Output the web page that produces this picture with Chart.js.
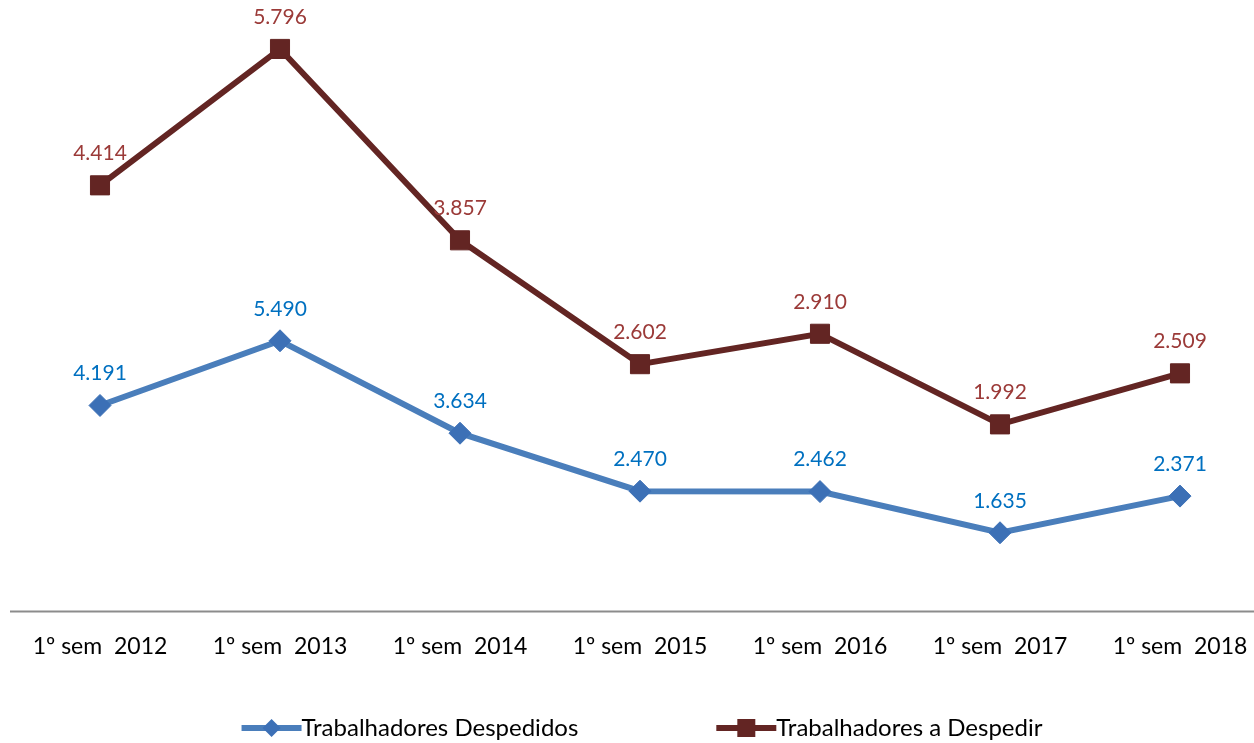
<!DOCTYPE html>
<html>
<head>
<meta charset="utf-8">
<script src="https://cdn.jsdelivr.net/npm/chart.js@4/dist/chart.umd.min.js"></script>
<style>
  html, body { margin: 0; padding: 0; background: #fff; }
  #wrap { width: 1254px; height: 743px; position: relative; }
</style>
</head>
<body>
<div id="wrap"><canvas id="chart"></canvas></div>
<script>
const categories = ["1º sem  2012", "1º sem  2013", "1º sem  2014", "1º sem  2015", "1º sem  2016", "1º sem  2017", "1º sem  2018"];
const despedidos = [4191, 5490, 3634, 2470, 2462, 1635, 2371];
const aDespedir = [4414, 5796, 3857, 2602, 2910, 1992, 2509];
const seriesNames = ["Trabalhadores Despedidos", "Trabalhadores a Despedir"];
const labelColors = ["#0070C0", "#9B3A38"];

const FONT = "Lato, 'Open Sans', sans-serif";

// 4414 -> "4.414"
function fmt(v) {
  return String(v).replace(/\B(?=(\d{3})+(?!\d))/g, ".");
}

// value labels above each point
const valueLabels = {
  id: "valueLabels",
  afterDatasetsDraw(chart) {
    const ctx = chart.ctx;
    ctx.save();
    ctx.font = "21px " + FONT;
    ctx.textAlign = "center";
    ctx.textBaseline = "middle";
    chart.data.datasets.forEach((ds, i) => {
      const meta = chart.getDatasetMeta(i);
      ctx.fillStyle = labelColors[i];
      meta.data.forEach((pt, j) => {
        ctx.fillText(fmt(ds.data[j]), pt.x, pt.y - 32);
      });
    });
    ctx.restore();
  }
};

// horizontal axis line runs past the first/last category, like the excel original
const baseLine = {
  id: "baseLine",
  beforeDatasetsDraw(chart) {
    const ctx = chart.ctx;
    const y = chart.chartArea.bottom;
    ctx.save();
    ctx.strokeStyle = "#8C8C8C";
    ctx.lineWidth = 2;
    ctx.beginPath();
    ctx.moveTo(10, y);
    ctx.lineTo(chart.width, y);
    ctx.stroke();
    ctx.restore();
  }
};

// excel style legend: line sample with marker, wide gap between entries
const lineLegend = {
  id: "lineLegend",
  afterDraw(chart) {
    const ctx = chart.ctx;
    const y = 728, sample = 60, gap = 138;
    ctx.save();
    ctx.font = "24px " + FONT;
    ctx.textBaseline = "middle";
    const widths = chart.data.datasets.map(ds => ctx.measureText(ds.label).width);
    const total = widths.reduce((a, w) => a + sample + w, 0) + gap;
    let x = chart.width / 2 + 15 - total / 2;
    chart.data.datasets.forEach((ds, i) => {
      ctx.strokeStyle = ds.borderColor;
      ctx.lineWidth = 6;
      ctx.beginPath();
      ctx.moveTo(x, y);
      ctx.lineTo(x + sample, y);
      ctx.stroke();
      const cx = x + sample / 2;
      ctx.fillStyle = ds.pointBackgroundColor;
      ctx.beginPath();
      if (ds.pointStyle === "rectRot") {
        const r = 9;
        ctx.moveTo(cx, y - r); ctx.lineTo(cx + r, y); ctx.lineTo(cx, y + r); ctx.lineTo(cx - r, y);
        ctx.closePath();
      } else {
        ctx.rect(cx - 9, y - 9, 18, 18);
      }
      ctx.fill();
      ctx.fillStyle = "#000";
      ctx.fillText(ds.label, x + sample, y);
      x += sample + widths[i] + gap;
    });
    ctx.restore();
  }
};

new Chart(document.getElementById("chart"), {
  type: "line",
  data: {
    labels: categories,
    datasets: [
      {
        label: seriesNames[0],
        data: despedidos,
        yAxisID: "y",
        borderColor: "#4A7EBB",
        borderWidth: 6,
        pointStyle: "rectRot",
        pointRadius: 11,
        pointHoverRadius: 11,
        pointBackgroundColor: "#3C70B6",
        pointBorderColor: "#3C70B6",
        pointBorderWidth: 1,
        tension: 0
      },
      {
        label: seriesNames[1],
        data: aDespedir,
        yAxisID: "y1",
        borderColor: "#632523",
        borderWidth: 6,
        pointStyle: "rect",
        pointRadius: 13.5,
        pointHoverRadius: 13.5,
        pointBackgroundColor: "#632523",
        pointBorderColor: "#632523",
        pointBorderWidth: 1,
        tension: 0
      }
    ]
  },
  options: {
    responsive: true,
    maintainAspectRatio: false,
    animation: false,
    layout: {
      padding: { left: 100, right: 74, top: 10, bottom: 62 }
    },
    plugins: {
      legend: { display: false },
      tooltip: { enabled: false }
    },
    scales: {
      x: {
        offset: false,
        grid: { display: false, drawTicks: false },
        border: { display: false },
        ticks: {
          color: "#000",
          font: { family: FONT, size: 23 },
          padding: 21,
          maxRotation: 0,
          autoSkip: false
        },
        // layout padding already leaves room for the edge labels
        afterFit(scale) {
          scale.paddingLeft = 0;
          scale.paddingRight = 0;
        }
      },
      y: { display: false, min: 56, max: 12042 },
      y1: { display: false, min: 97, max: 6145 }
    }
  },
  plugins: [baseLine, valueLabels, lineLegend]
});
</script>
</body>
</html>
